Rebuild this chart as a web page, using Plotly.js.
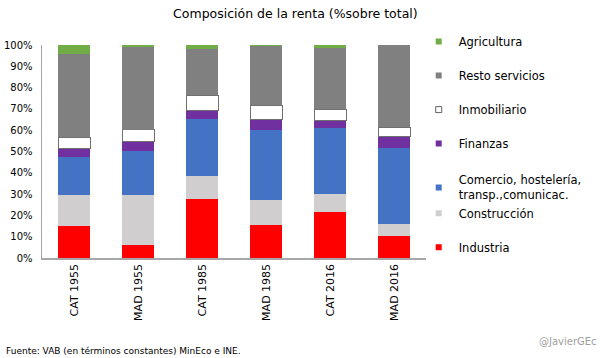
<!DOCTYPE html>
<html>
<head>
<meta charset="utf-8">
<script src="https://cdn.plot.ly/plotly-3.0.1.min.js"></script>
<style>html,body{margin:0;padding:0;background:#fff;}#chart{width:609px;height:358px;}</style>
</head>
<body>
<div id="chart"></div>
<script>
const categories = ["CAT 1955", "MAD 1955", "CAT 1985", "MAD 1985", "CAT 2016", "MAD 2016"];
const industria    = [14.9, 6.0, 27.6, 15.4, 21.4, 10.2];
const construccion = [14.5, 23.4, 10.8, 11.7, 8.5, 5.6];
const comercio     = [17.9, 20.7, 26.7, 32.9, 31.0, 35.7];
const finanzas     = [4.1, 4.4, 4.1, 5.0, 3.6, 5.5];
const inmobiliario = [5.4, 5.8, 7.3, 6.8, 5.3, 4.5];
const resto        = [38.8, 38.8, 21.5, 27.7, 28.8, 38.5];
const agricultura  = [4.4, 0.9, 2.0, 0.5, 1.4, 0.0];
const seriesNames = ["Industria", "Construcción", "Comercio, hostelería,<br>transp.,comunicac.", "Finanzas", "Inmobiliario", "Resto servicios", "Agricultura"];
const yTickVals = [0, 10, 20, 30, 40, 50, 60, 70, 80, 90, 100];
const yTickText = ["0%", "10%", "20%", "30%", "40%", "50%", "60%", "70%", "80%", "90%", "100%"];

const seriesValues = [industria, construccion, comercio, finanzas, inmobiliario, resto, agricultura];
const colors = ["#FF0000", "#D0CECE", "#4472C4", "#7030A0", "#FFFFFF", "#808080", "#70AD47"];
const legendOf = ["legend3", "legend3", "legend2", "legend", "legend", "legend", "legend"];
const FONT = "DejaVu Sans, sans-serif";

const traces = [];
seriesValues.forEach((vals, i) => {
  traces.push({
    type: "bar", x: categories, y: vals, name: seriesNames[i],
    showlegend: false,
    marker: {color: colors[i], line: {color: i === 4 ? "#707070" : colors[i], width: i === 4 ? 1 : 0}},
    hoverinfo: "y+name"
  });
});
// legend entries, top to bottom
for (let i = seriesValues.length - 1; i >= 0; i--) {
  traces.push({
    type: "scatter", mode: "markers", x: [null], y: [null], name: seriesNames[i],
    legendgroup: "g" + i, legend: legendOf[i],
    marker: {symbol: "square", size: 6, color: colors[i], line: {color: i === 4 ? "#606060" : colors[i], width: i === 4 ? 1 : 0}}
  });
}

const legendBase = {
  x: 0.981, xanchor: "left", yanchor: "top",
  traceorder: "grouped", tracegroupgap: 15, maxheight: 1,
  font: {family: FONT, size: 11.5, color: "#000"},
  itemwidth: 30, bgcolor: "rgba(0,0,0,0)"
};

const layout = {
  width: 609, height: 358, autosize: false,
  margin: {l: 42, r: 183, t: 45, b: 100},
  paper_bgcolor: "#fff", plot_bgcolor: "#fff",
  barmode: "stack", bargap: 0.5,
  font: {family: FONT, color: "#000"},
  title: {text: "Composición de la renta (%sobre total)", font: {family: FONT, size: 12.5, color: "#000"}, x: 0.485, xanchor: "center", y: 0.962, yanchor: "middle"},
  xaxis: {
    type: "category", showline: true, linecolor: "#A6A6A6", linewidth: 1.5,
    ticks: "", tickangle: -90, tickfont: {family: FONT, size: 11, color: "#000"},
    showgrid: false, zeroline: false, fixedrange: true
  },
  yaxis: {
    range: [0, 100], tickvals: yTickVals, ticktext: yTickText,
    showline: true, linecolor: "#A6A6A6", linewidth: 1.5, ticks: "",
    tickfont: {family: FONT, size: 10, color: "#000"}, ticklabelstandoff: 6,
    showgrid: false, zeroline: false, fixedrange: true
  },
  legend: Object.assign({}, legendBase, {y: 1.084}),
  legend2: Object.assign({}, legendBase, {y: 0.432}),
  legend3: Object.assign({}, legendBase, {y: 0.278}),
  annotations: [
    {text: "Fuente: VAB (en términos constantes) MinEco e INE.", xref: "paper", yref: "paper", x: -0.1, y: -0.435, xanchor: "left", yanchor: "middle", showarrow: false, font: {family: FONT, size: 9, color: "#000"}},
    {text: "@JavierGEc", xref: "paper", yref: "paper", x: 1.45, y: -0.39, xanchor: "right", yanchor: "middle", showarrow: false, font: {family: FONT, size: 10, color: "#A0A0A0"}}
  ]
};
Plotly.newPlot("chart", traces, layout, {displayModeBar: false, staticPlot: true});
</script>
</body>
</html>
